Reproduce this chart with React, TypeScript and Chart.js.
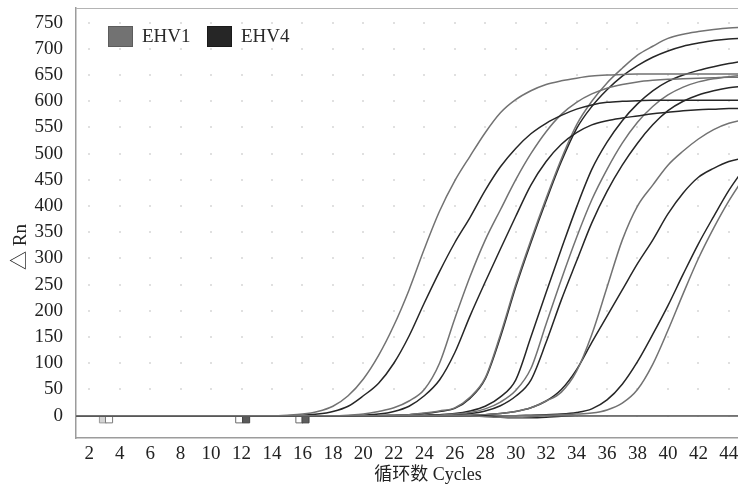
import React, { useEffect, useRef } from "react";
import { Chart, registerables } from "chart.js";

Chart.register(...registerables);

// ---------- data ----------
const cycles = [1, 2, 3, 4, 5, 6, 7, 8, 9, 10, 11, 12, 13, 14, 15, 16, 17, 18, 19, 20, 21, 22, 23, 24, 25, 26, 27, 28, 29, 30, 31, 32, 33, 34, 35, 36, 37, 38, 39, 40, 41, 42, 43, 44, 45];

const seriesNames = ["EHV1", "EHV4"];
const seriesColors = ["#727272", "#262626"];

// EHV1 amplification curves (ΔRn per cycle)
const ehv1A = [0, 0, 0, 0, 0, 0, 0, 0, 0, 0, 0, 0, 0, 0, 1, 3, 8, 18, 38, 70, 115, 172, 240, 318, 390, 448, 495, 540, 578, 603, 620, 632, 639, 644, 648, 650, 651, 652, 652, 652, 652, 652, 652, 652, 652];
const ehv1C = [0, 0, 0, 0, 0, 0, 0, 0, 0, 0, 0, 0, 0, 0, 0, 0, 0, 0, 1, 3, 8, 15, 28, 50, 100, 185, 265, 335, 393, 450, 500, 542, 575, 598, 614, 625, 632, 637, 640, 642, 643, 644, 645, 646, 646];
const ehv1E = [0, 0, 0, 0, 0, 0, 0, 0, 0, 0, 0, 0, 0, 0, 0, 0, 0, 0, 0, 0, 0, 1, 2, 5, 9, 15, 35, 72, 155, 250, 335, 415, 490, 555, 600, 635, 663, 688, 705, 720, 728, 733, 737, 740, 741];
const ehv1F = [0, 0, 0, 0, 0, 0, 0, 0, 0, 0, 0, 0, 0, 0, 0, 0, 0, 0, 0, 0, 0, 0, 0, 0, 1, 3, 6, 13, 26, 48, 90, 175, 260, 340, 412, 470, 520, 560, 590, 612, 627, 637, 643, 647, 650];
const ehv1H = [0, 0, 0, 0, 0, 0, 0, 0, 0, 0, 0, 0, 0, 0, 0, 0, 0, 0, 0, 0, 0, 0, 0, 0, 0, 0, 1, 2, 4, 8, 15, 28, 45, 85, 155, 245, 335, 400, 440, 478, 505, 528, 546, 558, 565];
const ehv1L = [0, 0, 0, 0, 0, 0, 0, 0, 0, 0, 0, 0, 0, 0, 0, 0, 0, 0, 0, 0, 0, 0, 0, 0, 0, 0, 0, 0, 0, 0, 0, 1, 2, 3, 5, 11, 24, 50, 98, 163, 233, 300, 358, 410, 455];
const ehv1Ntc = [0, 0, 0, 0, 0, 0, 0, 0, 0, 0, 0, 0, 0, 0, 0, 0, 0, 0, 0, 0, 0, 0, 0, 0, 0, 0, 0, -2, -3, -3, -2, 0, 0, 0, 0, 0, 0, 0, 0, 0, 0, 0, 0, 0, 0];

// EHV4 amplification curves
const ehv4B = [0, 0, 0, 0, 0, 0, 0, 0, 0, 0, 0, 0, 0, 0, 0, 1, 3, 8, 18, 38, 62, 100, 152, 215, 275, 330, 378, 430, 475, 510, 538, 558, 573, 585, 593, 598, 600, 601, 602, 602, 602, 602, 602, 602, 602];
const ehv4D = [0, 0, 0, 0, 0, 0, 0, 0, 0, 0, 0, 0, 0, 0, 0, 0, 0, 0, 0, 1, 3, 8, 18, 38, 68, 120, 190, 255, 318, 380, 440, 485, 518, 540, 555, 563, 568, 572, 576, 579, 582, 584, 585, 586, 586];
const ehv4E = [0, 0, 0, 0, 0, 0, 0, 0, 0, 0, 0, 0, 0, 0, 0, 0, 0, 0, 0, 0, 0, 1, 2, 4, 8, 14, 33, 70, 150, 245, 330, 410, 485, 548, 590, 622, 648, 668, 684, 696, 705, 711, 716, 719, 720];
const ehv4F = [0, 0, 0, 0, 0, 0, 0, 0, 0, 0, 0, 0, 0, 0, 0, 0, 0, 0, 0, 0, 0, 0, 0, 1, 2, 4, 9, 18, 36, 68, 150, 235, 318, 398, 470, 522, 563, 595, 620, 638, 650, 659, 666, 672, 677];
const ehv4G = [0, 0, 0, 0, 0, 0, 0, 0, 0, 0, 0, 0, 0, 0, 0, 0, 0, 0, 0, 0, 0, 0, 0, 0, 1, 2, 4, 9, 19, 37, 68, 140, 221, 295, 368, 428, 478, 520, 555, 582, 600, 612, 620, 626, 629];
const ehv4J = [0, 0, 0, 0, 0, 0, 0, 0, 0, 0, 0, 0, 0, 0, 0, 0, 0, 0, 0, 0, 0, 0, 0, 0, 0, 0, 1, 2, 4, 8, 15, 28, 50, 88, 140, 190, 240, 290, 335, 385, 425, 455, 472, 485, 492];
const ehv4K = [0, 0, 0, 0, 0, 0, 0, 0, 0, 0, 0, 0, 0, 0, 0, 0, 0, 0, 0, 0, 0, 0, 0, 0, 0, 0, 0, 0, 0, 0, 1, 2, 3, 6, 13, 30, 60, 103, 155, 210, 270, 328, 380, 430, 472];
const ehv4Ntc = [0, 0, 0, 0, 0, 0, 0, 0, 0, 0, 0, 0, 0, 0, 0, 0, 0, 0, 0, 0, 0, 0, 0, 0, 0, 0, 0, 0, -3, -4, -4, -3, -1, 0, 0, 0, 0, 0, 0, 0, 0, 0, 0, 0, 0];

const ehv1Curves = [ehv1Ntc, ehv1A, ehv1C, ehv1E, ehv1F, ehv1H, ehv1L];
const ehv4Curves = [ehv4Ntc, ehv4B, ehv4D, ehv4E, ehv4F, ehv4G, ehv4J, ehv4K];

// baseline range markers
const markerCycles = [2.9, 3.3, 11.85, 12.3, 15.8, 16.2];
const markerValues = [-7, -7, -7, -7, -7, -7];
const markerFills = ["#d4d4d4", "#ffffff", "#ffffff", "#5a5a5a", "#ffffff", "#5e5e5e"];
const markerBorders = ["#9a9a9a", "#7a7a7a", "#6a6a6a", "#444444", "#6a6a6a", "#444444"];

// axis settings
const xMin = 1.13;
const xMax = 44.6;
const xStep = 2;
const yMin = -42.6;
const yMax = 778;
const yStep = 50;

const yTitle = "△ Rn";
const xTitle = "循环数 Cycles";

const serif = "'Liberation Serif', 'Times New Roman', 'Noto Sans CJK SC', serif";

const toPoints = (vals: number[]) => vals.map((v, i) => ({ x: cycles[i], y: v }));

const framePlugin = {
  id: "frame",
  beforeDatasetsDraw(chart: any) {
    const { ctx, chartArea, scales } = chart;
    const xs = scales.x;
    const ys = scales.y;
    ctx.save();
    // dotted grid (dots at tick intersections)
    ctx.fillStyle = "#e0e0e0";
    xs.ticks.forEach((xt: any) => {
      const px = xs.getPixelForValue(xt.value);
      ys.ticks.forEach((yt: any) => {
        const py = ys.getPixelForValue(yt.value);
        ctx.fillRect(Math.round(px) - 1, Math.round(py) - 1, 2, 2);
      });
    });
    // top frame line
    ctx.strokeStyle = "#b4b4b4";
    ctx.lineWidth = 1;
    ctx.beginPath();
    ctx.moveTo(chartArea.left, chartArea.top + 0.5);
    ctx.lineTo(chartArea.right, chartArea.top + 0.5);
    ctx.stroke();
    ctx.restore();
  },
  afterDraw(chart: any) {
    const { ctx, chartArea } = chart;
    ctx.save();
    // legend
    const boxW = 25;
    const boxH = 21;
    let lx = chartArea.left + 32;
    const ly = chartArea.top + 18;
    ctx.font = `19px ${serif}`;
    ctx.textBaseline = "middle";
    ctx.textAlign = "left";
    seriesNames.forEach((name, i) => {
      ctx.fillStyle = seriesColors[i];
      ctx.fillRect(lx, ly, boxW, boxH);
      ctx.strokeStyle = i === 0 ? "#5c5c5c" : "#1a1a1a";
      ctx.lineWidth = 1;
      ctx.strokeRect(lx + 0.5, ly + 0.5, boxW - 1, boxH - 1);
      ctx.fillStyle = "#2a2a2a";
      ctx.fillText(name, lx + boxW + 9, ly + boxH / 2 + 1);
      lx += 99;
    });
    // y title
    ctx.save();
    ctx.translate(21, 247);
    ctx.rotate(-Math.PI / 2);
    ctx.textAlign = "center";
    ctx.textBaseline = "middle";
    ctx.font = `19px ${serif}`;
    ctx.fillStyle = "#222";
    ctx.fillText(yTitle, 0, 0);
    ctx.restore();
    // x title
    ctx.textAlign = "center";
    ctx.textBaseline = "middle";
    ctx.font = `18px ${serif}`;
    ctx.fillStyle = "#222";
    ctx.fillText(xTitle, 428, 475);
    ctx.restore();
  },
};

export default function App() {
  const ref = useRef<HTMLCanvasElement>(null);

  useEffect(() => {
    if (!ref.current) return;
    const lineDs = (vals: number[], color: string) => ({
      data: toPoints(vals),
      borderColor: color,
      backgroundColor: color,
      borderWidth: 1.5,
      pointRadius: 0,
      cubicInterpolationMode: "monotone" as const,
      fill: false,
    });
    const datasets: any[] = [];
    const maxLen = Math.max(ehv1Curves.length, ehv4Curves.length);
    for (let i = 0; i < maxLen; i++) {
      if (ehv1Curves[i]) datasets.push({ label: seriesNames[0], ...lineDs(ehv1Curves[i], seriesColors[0]) });
      if (ehv4Curves[i]) datasets.push({ label: seriesNames[1], ...lineDs(ehv4Curves[i], seriesColors[1]) });
    }
    datasets.push({
      label: "markers",
      data: markerCycles.map((c, i) => ({ x: c, y: markerValues[i] })),
      showLine: false,
      pointStyle: "rect",
      pointRadius: 5,
      pointBorderWidth: 1,
      pointBackgroundColor: markerFills,
      pointBorderColor: markerBorders,
    });

    const tickFont = { family: serif, size: 19 };
    const chart = new Chart(ref.current, {
      type: "line",
      data: { datasets },
      options: {
        animation: false,
        responsive: false,
        layout: { autoPadding: false, padding: { top: 8, left: 0, right: 0, bottom: 0 } },
        plugins: { legend: { display: false }, tooltip: { enabled: false } },
        scales: {
          x: {
            type: "linear",
            min: xMin,
            max: xMax,
            grid: { display: false, drawTicks: false },
            border: { display: true, color: "#9c9c9c", width: 1.5 },
            ticks: {
              stepSize: xStep,
              includeBounds: false,
              autoSkip: false,
              maxRotation: 0,
              padding: 5,
              color: "#222",
              font: tickFont,
            },
            afterFit: (s: any) => {
              s.height = 50;
              s.paddingLeft = 0;
              s.paddingRight = 0;
            },
          },
          y: {
            type: "linear",
            min: yMin,
            max: yMax,
            grid: { display: false, drawTicks: false },
            border: { display: true, color: "#9c9c9c", width: 1.5 },
            ticks: {
              stepSize: yStep,
              includeBounds: false,
              autoSkip: false,
              padding: 13,
              color: "#222",
              font: tickFont,
            },
            afterFit: (s: any) => {
              s.width = 76;
              s.paddingTop = 0;
              s.paddingBottom = 0;
            },
          },
        },
      },
      plugins: [framePlugin],
    });
    return () => chart.destroy();
  }, []);

  return (
    <div style={{ position: "fixed", left: 0, top: 0, width: 738, height: 488, background: "#fff" }}>
      <canvas ref={ref} width={738} height={488} style={{ display: "block" }} />
    </div>
  );
}
